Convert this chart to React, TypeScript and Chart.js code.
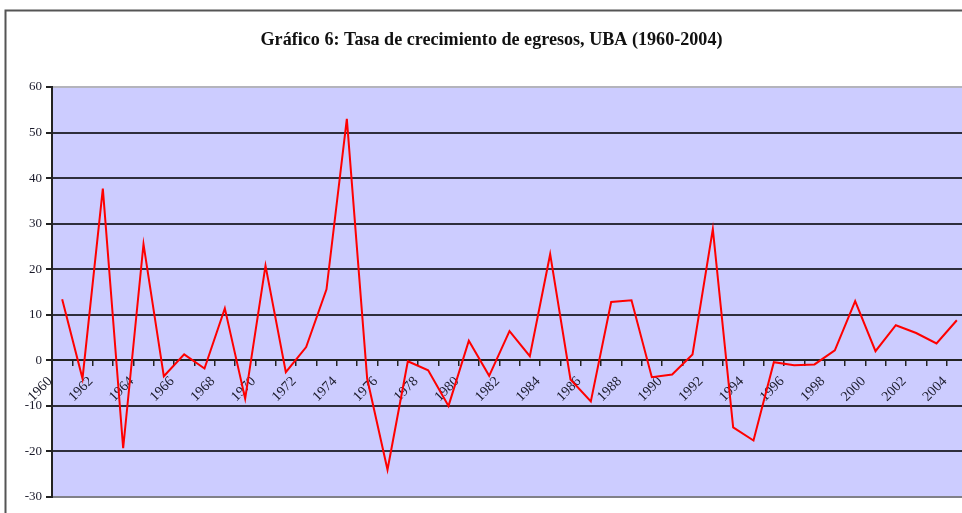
import React, { useEffect, useRef } from 'react';
import { Chart, registerables } from 'chart.js';

Chart.register(...registerables);

const chartTitle = 'Gráfico 6: Tasa de crecimiento de egresos, UBA (1960-2004)';

const years = [
  '1960', '1961', '1962', '1963', '1964', '1965', '1966', '1967', '1968', '1969',
  '1970', '1971', '1972', '1973', '1974', '1975', '1976', '1977', '1978', '1979',
  '1980', '1981', '1982', '1983', '1984', '1985', '1986', '1987', '1988', '1989',
  '1990', '1991', '1992', '1993', '1994', '1995', '1996', '1997', '1998', '1999',
  '2000', '2001', '2002', '2003', '2004',
];

const growthRates = [
  13.4, -4.0, 37.7, -19.3, 25.5, -3.5, 1.3, -1.8, 11.4, -8.4,
  20.8, -2.6, 2.9, 15.6, 53.0, -4.0, -24.0, -0.2, -2.2, -10.0,
  4.3, -3.4, 6.4, 0.9, 23.3, -4.2, -9.0, 12.8, 13.2, -3.7,
  -3.1, 1.3, 28.8, -14.7, -17.6, -0.4, -1.1, -0.9, 2.2, 13.0,
  2.0, 7.7, 6.0, 3.7, 8.8,
];

const yMin = -30;
const yMax = 60;
const yStep = 10;

const SERIF = '"Liberation Serif", "Times New Roman", serif';

const framePlugin = {
  id: 'framePlugin',
  beforeDraw(chart: any) {
    const { ctx, chartArea, width, height } = chart;
    ctx.save();
    ctx.fillStyle = '#ffffff';
    ctx.fillRect(0, 0, width, height);
    // outer frame
    ctx.strokeStyle = '#555555';
    ctx.lineWidth = 2;
    ctx.beginPath();
    ctx.moveTo(5.5, height + 5);
    ctx.lineTo(5.5, 10.5);
    ctx.lineTo(width + 5, 10.5);
    ctx.stroke();
    // plot area
    ctx.fillStyle = '#ccccff';
    ctx.fillRect(chartArea.left, chartArea.top, chartArea.right - chartArea.left, chartArea.bottom - chartArea.top);
    // title (condensed to the reference width)
    ctx.fillStyle = '#111111';
    ctx.font = `bold 19px ${SERIF}`;
    ctx.textAlign = 'center';
    ctx.textBaseline = 'alphabetic';
    const w = ctx.measureText(chartTitle).width;
    const sx = 462 / w;
    ctx.translate(491.5, 45);
    ctx.scale(sx, 1);
    ctx.fillText(chartTitle, 0, 0);
    ctx.restore();
  },
};

export default function App() {
  const canvasRef = useRef<HTMLCanvasElement | null>(null);

  useEffect(() => {
    const canvas = canvasRef.current;
    if (!canvas) return;
    const chart = new Chart(canvas, {
      type: 'line',
      data: {
        labels: years,
        datasets: [
          {
            data: growthRates,
            borderColor: '#ff0000',
            borderWidth: 2,
            pointRadius: 0,
            tension: 0,
            fill: false,
          },
        ],
      },
      options: {
        animation: false,
        responsive: false,
        devicePixelRatio: 1,
        layout: { padding: { left: 0, top: 87, right: 13, bottom: 16 } },
        plugins: {
          legend: { display: false },
          title: { display: false },
          tooltip: { enabled: false },
        },
        scales: {
          x: {
            type: 'category',
            position: { y: 0 },
            offset: true,
            afterFit: (s: any) => {
              s.height = 0;
            },
            grid: {
              display: true,
              offset: true,
              drawOnChartArea: false,
              drawTicks: true,
              tickLength: 5,
              color: '#222222',
              lineWidth: 1.5,
            },
            border: { display: true, color: '#222222', width: 2 },
            ticks: {
              autoSkip: false,
              minRotation: 45,
              maxRotation: 45,
              padding: 8,
              labelOffset: -12,
              color: '#1a1a2a',
              font: { family: SERIF, size: 14 },
              callback: (_v: any, i: number) => (i % 2 === 0 ? years[i] : ''),
            },
          },
          y: {
            min: yMin,
            max: yMax,
            afterFit: (s: any) => {
              s.width = 52;
            },
            grid: {
              color: (c: any) =>
                c.tick && c.tick.value === yMax
                  ? '#b4b4bc'
                  : c.tick && c.tick.value === yMin
                  ? '#808088'
                  : '#2e2e3c',
              lineWidth: 2,
              tickLength: 6,
              tickColor: '#222222',
            },
            border: { display: true, color: '#222222', width: 2 },
            ticks: {
              stepSize: yStep,
              padding: 4,
              color: '#1a1a2a',
              font: { family: SERIF, size: 13 },
            },
          },
        },
      },
      plugins: [framePlugin],
    });
    return () => chart.destroy();
  }, []);

  return (
    <div
      style={{
        position: 'fixed',
        left: 0,
        top: 0,
        width: 962,
        height: 513,
        overflow: 'hidden',
        background: '#ffffff',
      }}
    >
      <canvas ref={canvasRef} width={980} height={513} style={{ display: 'block', width: 980, height: 513 }} />
    </div>
  );
}
